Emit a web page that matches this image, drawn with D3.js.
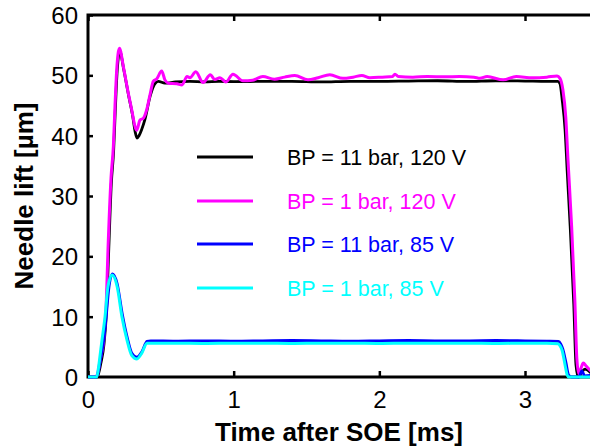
<!DOCTYPE html>
<html>
<head>
<meta charset="utf-8">
<script src="https://cdn.jsdelivr.net/npm/d3@7/dist/d3.min.js"></script>
<style>
  html, body { margin: 0; padding: 0; background: #fff; }
  svg { display: block; font-family: "Liberation Sans", Arial, Helvetica, sans-serif; }
</style>
</head>
<body>
<svg id="chart" width="590" height="447"></svg>
<script>
// Needle lift traces, time in ms after start of energizing, lift in µm
const tBlack = [0, 0.055, 0.07, 0.09, 0.11, 0.127, 0.14, 0.16, 0.176, 0.187, 0.199, 0.218, 0.245, 0.28, 0.305, 0.325, 0.336, 0.35, 0.368, 0.39, 0.426, 0.448, 0.483, 0.528, 0.6, 0.7, 0.8, 0.9, 1.0, 1.2, 1.4, 1.6, 1.8, 2.0, 2.2, 2.4, 2.6, 2.8, 3.0, 3.15, 3.225, 3.24, 3.255, 3.275, 3.29, 3.31, 3.335, 3.35, 3.365, 3.39, 3.41, 3.46];
const liftBlack = [0, 0, 0.4, 2.5, 5.5, 11, 19.5, 32, 37.5, 44, 50.2, 54, 51, 46.5, 43.5, 40.5, 39.6, 40, 41, 42.6, 46.5, 48.1, 49, 48.7, 48.9, 49.0, 48.9, 49.0, 48.95, 49.0, 49.0, 48.9, 49.0, 49.0, 49.05, 49.1, 49.0, 49.1, 49.05, 49.0, 49.0, 48.6, 46, 41, 34, 25, 12, 2, 0, 0.8, 1.3, 0.5];

const tMagenta = [0, 0.05, 0.065, 0.085, 0.108, 0.125, 0.137, 0.158, 0.174, 0.185, 0.197, 0.216, 0.243, 0.277, 0.30, 0.323, 0.334, 0.357, 0.38, 0.403, 0.426, 0.448, 0.471, 0.506, 0.528, 0.551, 0.61, 0.645, 0.68, 0.70, 0.74, 0.79, 0.84, 0.87, 0.906, 0.947, 0.995, 1.064, 1.13, 1.2, 1.28, 1.35, 1.42, 1.51, 1.58, 1.66, 1.75, 1.82, 1.88, 1.935, 2.02, 2.09, 2.107, 2.13, 2.23, 2.33, 2.45, 2.55, 2.65, 2.69, 2.74, 2.85, 2.94, 3.05, 3.15, 3.22, 3.24, 3.26, 3.28, 3.295, 3.32, 3.342, 3.356, 3.37, 3.385, 3.40, 3.42, 3.46];
const liftMagenta = [0, 0, 0.5, 3, 6.1, 12, 21, 33, 38.2, 44.8, 50.9, 54.5, 51.4, 47, 44.3, 41.5, 40.9, 42.6, 42.9, 44.3, 46.8, 49, 49.4, 50.7, 49.25, 48.7, 48.6, 48.4, 49.8, 49.6, 50.6, 48.8, 50.1, 49.3, 49.6, 48.9, 50.2, 49.1, 49.2, 49.8, 49.35, 49.7, 49.97, 49.25, 49.6, 50.1, 49.5, 49.7, 49.97, 49.6, 49.7, 49.8, 50.2, 49.8, 49.7, 49.8, 49.75, 49.8, 49.7, 49.5, 49.8, 49.25, 49.8, 49.6, 49.7, 49.9, 49.5, 47.6, 43, 36, 25, 12.8, 3, 0.5, 1.5, 2.3, 1.8, 0.8];

const tBlue = [0, 0.055, 0.065, 0.085, 0.108, 0.125, 0.142, 0.168, 0.2, 0.235, 0.27, 0.30, 0.335, 0.37, 0.405, 0.43, 0.6, 0.8, 1.0, 1.2, 1.4, 1.6, 1.8, 2.0, 2.2, 2.4, 2.6, 2.8, 3.0, 3.15, 3.23, 3.245, 3.26, 3.28, 3.30, 3.32, 3.37, 3.39, 3.41, 3.46];
const liftBlue = [0, 0, 0.3, 2.8, 6.1, 10, 14.5, 17.1, 15.5, 10.5, 6.5, 4, 3.3, 4.2, 5.9, 6.0, 5.95, 6.0, 5.95, 6.0, 6.05, 6.0, 5.95, 6.0, 6.05, 6.0, 6.0, 6.05, 6.0, 5.95, 5.9, 5.5, 4.6, 2.5, 0.3, 0, 0, 1.0, 0.2, 0.3];

const tCyan = [0, 0.06, 0.073, 0.085, 0.096, 0.117, 0.137, 0.165, 0.2, 0.233, 0.268, 0.30, 0.336, 0.37, 0.405, 0.43, 0.6, 0.8, 1.0, 1.2, 1.4, 1.6, 1.8, 2.0, 2.2, 2.4, 2.6, 2.8, 3.0, 3.15, 3.225, 3.24, 3.255, 3.275, 3.29, 3.30, 3.46];
const liftCyan = [0, 0, 1.7, 4, 6.1, 10, 15, 16.9, 15, 10, 6.1, 3.6, 3.0, 4, 5.6, 5.6, 5.6, 5.55, 5.6, 5.6, 5.55, 5.6, 5.6, 5.55, 5.6, 5.6, 5.6, 5.55, 5.6, 5.6, 5.5, 5.2, 4.4, 2, 0.3, 0, 0];

const seriesNames = ["BP = 11 bar, 120 V", "BP = 1 bar, 120 V", "BP = 11 bar, 85 V", "BP = 1 bar, 85 V"];
const seriesColors = ["#000000", "#ff00ff", "#0000ff", "#00ffff"];
const xTicks = [0, 1, 2, 3];
const yTicks = [0, 10, 20, 30, 40, 50, 60];

const series = [
  { name: seriesNames[0], color: seriesColors[0], width: 2.8, t: tBlack, v: liftBlack },
  { name: seriesNames[1], color: seriesColors[1], width: 3, t: tMagenta, v: liftMagenta },
  { name: seriesNames[2], color: seriesColors[2], width: 2.8, t: tBlue, v: liftBlue },
  { name: seriesNames[3], color: seriesColors[3], width: 3, t: tCyan, v: liftCyan }
];

const svg = d3.select("#chart");
const plotLeft = 88, plotTop = 15, plotBottom = 377;
const pxPerMs = 145.67;
const xMax = 3.47;

const x = d3.scaleLinear().domain([0, xMax]).range([plotLeft, plotLeft + xMax * pxPerMs]);
const y = d3.scaleLinear().domain([0, 60]).range([plotBottom, plotTop]);

// axes box
const axisG = svg.append("g");
axisG.append("rect")
  .attr("x", x(0)).attr("y", y(60))
  .attr("width", x(xMax) - x(0)).attr("height", y(0) - y(60))
  .attr("fill", "none").attr("stroke", "#000").attr("stroke-width", 3);

const fontTick = 24;

const xAxis = axisG.append("g").attr("transform", `translate(0,${plotBottom})`)
  .call(d3.axisBottom(x).tickValues(xTicks).tickFormat(d3.format("d")).tickSize(-6).tickPadding(14));
const xAxisTop = axisG.append("g").attr("transform", `translate(0,${plotTop})`)
  .call(d3.axisTop(x).tickValues(xTicks).tickFormat("").tickSize(-6));
const yAxis = axisG.append("g").attr("transform", `translate(${plotLeft},0)`)
  .call(d3.axisLeft(y).tickValues(yTicks).tickFormat(d3.format("d")).tickSize(-5).tickPadding(10));

[xAxis, xAxisTop, yAxis].forEach(g => {
  g.select(".domain").remove();
  g.selectAll(".tick line").attr("stroke", "#000").attr("stroke-width", 2.5);
  g.selectAll(".tick text").attr("fill", "#000").style("font-size", fontTick + "px");
});
yAxis.selectAll(".tick text").attr("dy", "0.36em");

// axis titles
svg.append("text")
  .attr("x", (plotLeft + 590) / 2).attr("y", 441)
  .attr("text-anchor", "middle")
  .style("font-size", "26px").style("font-weight", "bold")
  .text("Time after SOE [ms]");

svg.append("text")
  .attr("transform", `translate(33,${(plotTop + plotBottom) / 2}) rotate(-90)`)
  .attr("text-anchor", "middle")
  .style("font-size", "26px").style("font-weight", "bold")
  .text("Needle lift [µm]");

// traces
const line = d3.line()
  .x(d => x(d[0]))
  .y(d => y(d[1]))
  .curve(d3.curveMonotoneX);

svg.append("g").selectAll("path")
  .data(series)
  .join("path")
  .attr("d", s => line(s.t.map((t, i) => [t, s.v[i]])))
  .attr("fill", "none")
  .attr("stroke", s => s.color)
  .attr("stroke-width", s => s.width)
  .attr("stroke-linejoin", "round");

// legend
const legendRows = [157, 201, 244, 288];
const legend = svg.append("g");
series.forEach((s, i) => {
  legend.append("line")
    .attr("x1", 197).attr("x2", 253)
    .attr("y1", legendRows[i]).attr("y2", legendRows[i])
    .attr("stroke", s.color).attr("stroke-width", 2.8);
  legend.append("text")
    .attr("x", 287).attr("y", legendRows[i])
    .attr("dy", "0.36em")
    .attr("fill", s.color)
    .style("font-size", "21.5px")
    .text(s.name);
});
</script>
</body>
</html>
